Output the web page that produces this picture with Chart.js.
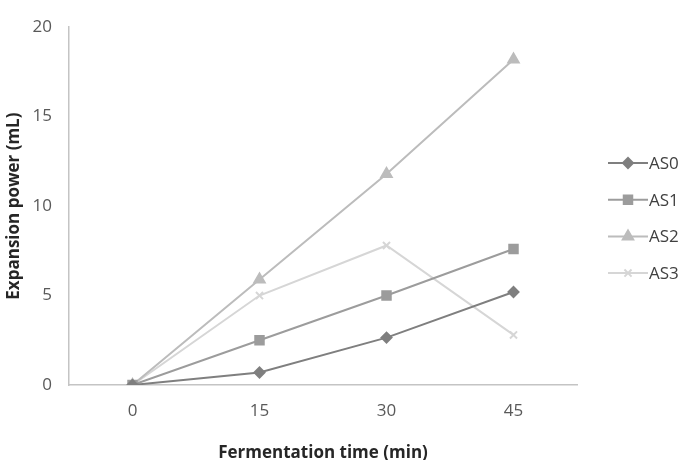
<!DOCTYPE html>
<html lang="en">
<head>
    <meta charset="UTF-8">
    <title>Expansion power</title>
    <script src="https://cdn.jsdelivr.net/npm/chart.js"></script>
    <style>
        html, body { margin: 0; padding: 0; background: #fff; }
        #wrap { width: 689px; height: 460px; position: relative; }
    </style>
</head>
<body>
    <div id="wrap"><canvas id="chart"></canvas></div>

    <script>
        // data
        const times = ['0', '15', '30', '45'];
        const as0 = [0, 0.7, 2.65, 5.2];
        const as1 = [0, 2.5, 5.0, 7.6];
        const as2 = [0, 5.9, 11.8, 18.2];
        const as3 = [0, 5.0, 7.8, 2.8];
        const seriesNames = ['AS0', 'AS1', 'AS2', 'AS3'];

        const colors = ['#7f7f7f', '#9c9c9c', '#bcbcbc', '#d6d6d6'];
        const shapes = ['rectRot', 'rect', 'triangle', 'crossRot'];
        const radii = [5, 6, 6, 5];
        const FONT = '"Open Sans", sans-serif';

        const datasets = [as0, as1, as2, as3].map((vals, i) => ({
            label: seriesNames[i],
            data: vals,
            borderColor: colors[i],
            backgroundColor: colors[i],
            pointBackgroundColor: colors[i],
            pointBorderColor: colors[i],
            pointStyle: shapes[i],
            pointRadius: radii[i],
            borderWidth: 2,
            tension: 0
        }));

        // legend on the right: short line with marker, then label
        const sideLegend = {
            id: 'sideLegend',
            afterDraw(chart) {
                const ctx = chart.ctx;
                const area = chart.chartArea;
                const x0 = area.right + 31;
                ctx.save();
                chart.data.datasets.forEach((ds, i) => {
                    const y = 163 + i * 36.7;
                    ctx.strokeStyle = ds.borderColor;
                    ctx.fillStyle = ds.borderColor;
                    ctx.lineWidth = 2;
                    ctx.beginPath();
                    ctx.moveTo(x0, y);
                    ctx.lineTo(x0 + 40, y);
                    ctx.stroke();
                    Chart.helpers.drawPoint(ctx, {
                        pointStyle: ds.pointStyle,
                        radius: ds.pointRadius,
                        borderWidth: 2,
                        rotation: 0
                    }, x0 + 20, y);
                    ctx.fillStyle = '#404040';
                    ctx.font = '17px ' + FONT;
                    ctx.textAlign = 'left';
                    ctx.textBaseline = 'middle';
                    ctx.fillText(ds.label, x0 + 41, y + 1);
                });
                ctx.restore();
            }
        };

        new Chart(document.getElementById('chart'), {
            type: 'line',
            data: { labels: times, datasets: datasets },
            plugins: [sideLegend],
            options: {
                responsive: true,
                maintainAspectRatio: false,
                animation: false,
                layout: { padding: { top: 21, right: 112, left: 0, bottom: 0 } },
                plugins: {
                    legend: { display: false },
                    tooltip: { enabled: false }
                },
                scales: {
                    x: {
                        offset: true,
                        grid: { display: false, drawTicks: false },
                        border: { display: true, color: '#c4c4c4', width: 1.5 },
                        ticks: { color: '#595959', font: { family: FONT, size: 17 }, padding: 16 },
                        title: {
                            display: true,
                            text: 'Fermentation time (min)',
                            color: '#262626',
                            font: { family: FONT, size: 17, weight: 'bold' },
                            padding: { top: 17, bottom: -3 }
                        },
                        afterFit: s => { s.height = 75; }
                    },
                    y: {
                        min: 0,
                        max: 20,
                        grid: { display: false, drawTicks: false },
                        border: { display: true, color: '#c4c4c4', width: 1.5 },
                        ticks: { stepSize: 5, color: '#595959', font: { family: FONT, size: 17 }, padding: 17 },
                        title: {
                            display: true,
                            text: 'Expansion power (mL)',
                            color: '#262626',
                            font: { family: FONT, size: 17, weight: 'bold' },
                            padding: { top: 4, bottom: 0 }
                        },
                        afterFit: s => { s.width = 69; }
                    }
                }
            }
        });
    </script>
</body>
</html>
